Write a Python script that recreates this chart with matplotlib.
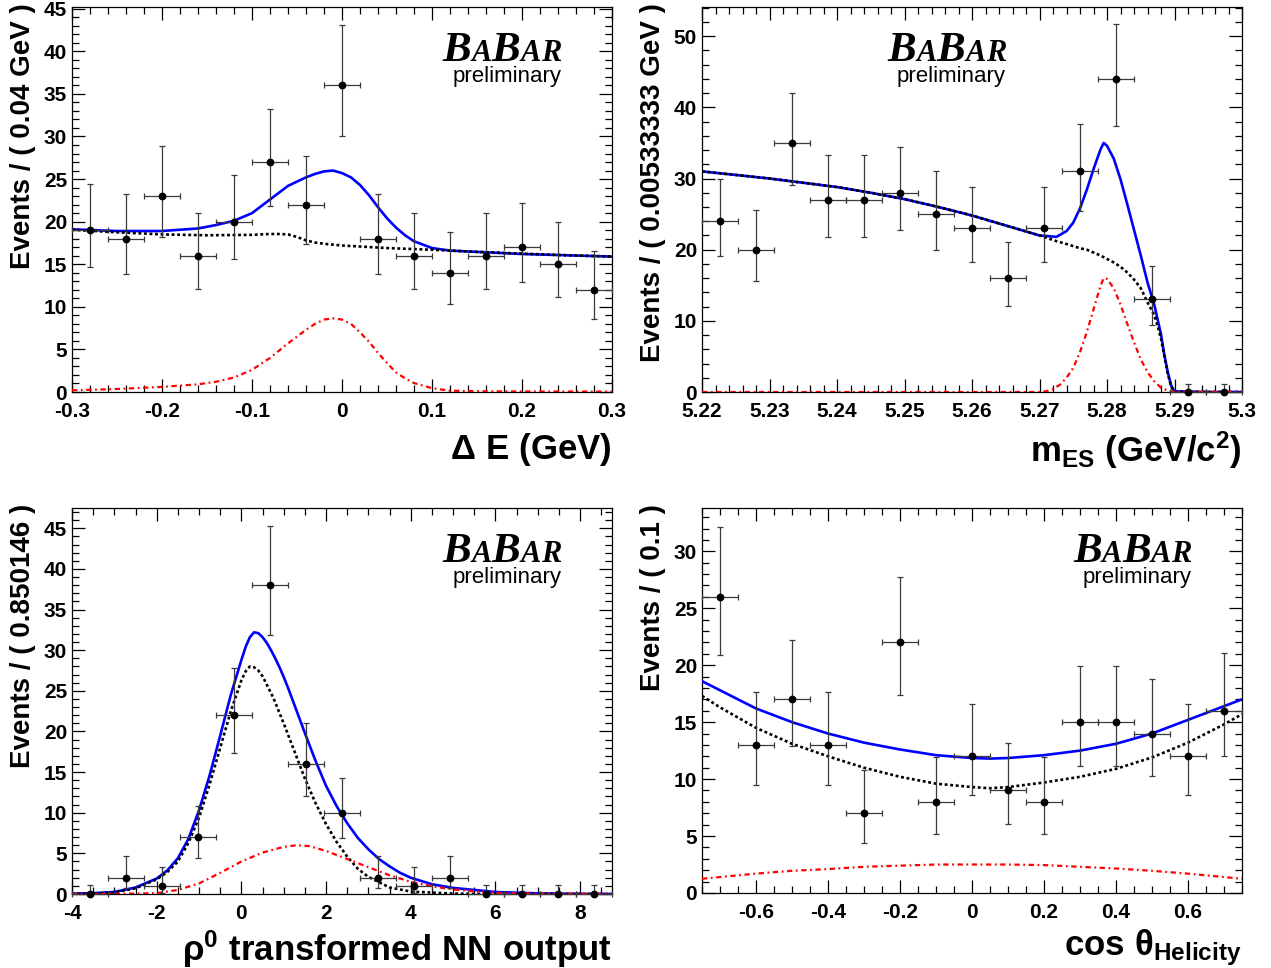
import matplotlib
matplotlib.use('Agg')
import matplotlib.pyplot as plt
from matplotlib.ticker import MultipleLocator, FuncFormatter

# ---------------- data ----------------
# panel 1: Delta E
de_centers = [-0.28, -0.24, -0.20, -0.16, -0.12, -0.08, -0.04, 0.00,
              0.04, 0.08, 0.12, 0.16, 0.20, 0.24, 0.28]
de_counts = [19, 18, 23, 16, 20, 27, 22, 36, 18, 16, 14, 16, 17, 15, 12]
de_lo = [4.32, 4.20, 4.77, 3.96, 4.44, 5.18, 4.66, 6.00, 4.20, 3.96, 3.70, 3.96, 4.08, 3.83, 3.42]
de_hi = [5.42, 5.30, 5.86, 5.06, 5.53, 6.26, 5.75, 7.09, 5.30, 5.06, 4.80, 5.06, 5.18, 4.93, 4.55]
de_binw = 0.04

de_tot_x = [-0.30, -0.25, -0.20, -0.16, -0.14, -0.12, -0.10, -0.08, -0.06, -0.04, -0.03, -0.02,
            -0.01, 0.00, 0.01, 0.02, 0.03, 0.04, 0.05, 0.06, 0.07, 0.08, 0.10, 0.12, 0.16,
            0.20, 0.25, 0.30]
de_tot_y = [19.1, 18.9, 18.9, 19.2, 19.6, 20.1, 21.0, 22.6, 24.2, 25.2, 25.6, 25.9,
            26.0, 25.7, 25.2, 24.3, 23.1, 21.7, 20.4, 19.3, 18.4, 17.7, 16.9, 16.6, 16.4,
            16.2, 16.05, 15.9]
de_bkg_x = [-0.30, -0.25, -0.20, -0.15, -0.10, -0.08, -0.07, -0.06, -0.05, -0.04, -0.03,
            -0.02, -0.01, 0.00, 0.05, 0.10, 0.15, 0.20, 0.25, 0.30]
de_bkg_y = [19.05, 18.75, 18.5, 18.4, 18.45, 18.55, 18.55, 18.5, 18.2, 17.8, 17.55,
            17.4, 17.3, 17.2, 16.9, 16.7, 16.45, 16.25, 16.05, 15.9]
de_sig_x = [-0.30, -0.25, -0.20, -0.16, -0.14, -0.12, -0.10, -0.08, -0.06, -0.04, -0.03,
            -0.02, -0.01, 0.00, 0.01, 0.02, 0.03, 0.04, 0.05, 0.06, 0.07, 0.08, 0.10,
            0.12, 0.16, 0.20, 0.30]
de_sig_y = [0.2, 0.35, 0.6, 0.9, 1.2, 1.7, 2.6, 4.0, 5.7, 7.3, 8.0, 8.5,
            8.65, 8.5, 8.0, 7.0, 5.9, 4.6, 3.4, 2.3, 1.6, 1.05, 0.45,
            0.15, 0.08, 0.06, 0.05]

# panel 2: m_ES
mes_centers = [5.2227, 5.2280, 5.2333, 5.2387, 5.2440, 5.2493, 5.2547, 5.2600,
               5.2653, 5.2707, 5.2760, 5.2813, 5.2867, 5.2920, 5.2973]
mes_counts = [24, 20, 35, 27, 27, 28, 25, 23, 16, 23, 31, 44, 13, 0, 0]
mes_lo = [4.88, 4.44, 5.92, 5.18, 5.18, 5.28, 4.98, 4.77, 3.96, 4.77, 5.56, 6.63, 3.56, 0, 0]
mes_hi = [5.96, 5.53, 7.00, 6.26, 6.26, 6.36, 6.06, 5.86, 5.06, 5.86, 6.64, 7.71, 4.67, 1.15, 1.15]
mes_binw = 0.00533333

mes_tot_x = [5.22, 5.225, 5.23, 5.235, 5.24, 5.245, 5.25, 5.255, 5.26, 5.265, 5.27, 5.2725,
             5.274, 5.275, 5.276, 5.277, 5.278, 5.279, 5.2795, 5.28, 5.281, 5.282, 5.283,
             5.284, 5.285, 5.286, 5.287, 5.2875, 5.288, 5.2885, 5.289, 5.2895, 5.29, 5.295, 5.30]
mes_tot_y = [31.0, 30.5, 30.0, 29.4, 28.8, 28.0, 27.1, 26.0, 24.8, 23.4, 22.0, 21.8,
             22.6, 23.8, 25.8, 28.4, 31.3, 34.0, 35.0, 34.6, 32.8, 29.9, 26.4,
             22.8, 19.2, 15.4, 12.3, 10.2, 8.1, 5.2, 2.8, 0.9, 0.1, 0.0, 0.0]
mes_bkg_x = [5.22, 5.225, 5.23, 5.235, 5.24, 5.245, 5.25, 5.255, 5.26, 5.265, 5.27, 5.2725,
             5.274, 5.275, 5.276, 5.277, 5.278, 5.279, 5.28, 5.281, 5.282, 5.283, 5.284,
             5.285, 5.286, 5.287, 5.2875, 5.288, 5.2885, 5.289, 5.2895, 5.29, 5.295, 5.30]
mes_bkg_y = [31.0, 30.5, 30.0, 29.4, 28.8, 28.0, 27.1, 26.0, 24.8, 23.4, 22.0, 21.2,
             20.8, 20.5, 20.2, 20.0, 19.6, 19.2, 18.7, 18.2, 17.6, 16.8, 15.8,
             14.6, 12.6, 10.8, 9.3, 7.5, 5.0, 2.6, 0.8, 0.0, 0.0, 0.0]
mes_sig_x = [5.22, 5.27, 5.271, 5.272, 5.273, 5.274, 5.275, 5.276, 5.277, 5.278, 5.279,
             5.2795, 5.28, 5.281, 5.282, 5.283, 5.284, 5.285, 5.286, 5.287, 5.288, 5.289,
             5.29, 5.30]
mes_sig_y = [0.0, 0.0, 0.1, 0.4, 1.0, 2.0, 3.4, 5.6, 8.4, 11.6, 14.8,
             16.0, 15.9, 14.6, 12.3, 9.6, 7.0, 4.6, 2.8, 1.5, 0.6, 0.2,
             0.0, 0.0]

# panel 3: transformed NN output
nn_centers = [-3.575, -2.725, -1.874, -1.024, -0.174, 0.676, 1.527, 2.377,
              3.227, 4.077, 4.928, 5.778, 6.628, 7.478, 8.329]
nn_counts = [0, 2, 1, 7, 22, 38, 16, 10, 2, 1, 2, 0, 0, 0, 0]
nn_lo = [0, 1.29, 0.83, 2.58, 4.66, 6.16, 3.96, 3.11, 1.29, 0.83, 1.29, 0, 0, 0, 0]
nn_hi = [1.15, 2.64, 2.30, 3.77, 5.75, 7.25, 5.06, 4.26, 2.64, 2.30, 2.64, 1.15, 1.15, 1.15, 1.15]
nn_binw = 0.850146

nn_tot_x = [-4.0, -3.5, -3.0, -2.5, -2.0, -1.75, -1.5, -1.25, -1.0, -0.75, -0.5, -0.25, 0.0,
            0.1, 0.2, 0.3, 0.4, 0.5, 0.6, 0.7, 0.8, 0.9, 1.0, 1.1, 1.25, 1.5, 1.75, 2.0,
            2.25, 2.5, 2.75, 3.0, 3.25, 3.5, 3.75, 4.0, 4.5, 5.0, 6.0, 7.0, 8.0, 8.75]
nn_tot_y = [0.05, 0.1, 0.25, 0.8, 1.9, 2.9, 4.4, 6.8, 10.3, 14.6, 19.5, 24.5, 28.8,
            30.4, 31.6, 32.2, 32.1, 31.6, 30.9, 30.0, 29.0, 27.9, 26.7, 25.4, 23.3, 19.8,
            16.4, 13.3, 10.8, 8.7, 6.9, 5.5, 4.3, 3.4, 2.6, 2.0, 1.2, 0.75, 0.25, 0.08,
            0.02, 0.0]
nn_bkg_x = [-4.0, -3.5, -3.0, -2.5, -2.0, -1.75, -1.5, -1.25, -1.0, -0.75, -0.5, -0.25, 0.0,
            0.1, 0.2, 0.3, 0.4, 0.5, 0.75, 1.0, 1.25, 1.5, 1.75, 2.0, 2.25, 2.5, 2.75, 3.0,
            3.5, 4.0, 5.0, 6.0, 8.75]
nn_bkg_y = [0.0, 0.05, 0.2, 0.7, 1.8, 2.7, 4.0, 6.3, 9.4, 13.5, 18.0, 22.5, 26.3,
            27.4, 28.0, 27.9, 27.5, 26.8, 24.2, 21.0, 17.6, 14.2, 11.2, 8.6, 6.4, 4.6,
            3.1, 2.1, 0.8, 0.3, 0.05, 0.0, 0.0]
nn_sig_x = [-4.0, -3.0, -2.5, -2.0, -1.5, -1.0, -0.5, 0.0, 0.5, 1.0, 1.3, 1.6, 2.0,
            2.5, 3.0, 3.5, 4.0, 4.5, 5.0, 6.0, 7.0, 8.75]
nn_sig_y = [0.0, 0.02, 0.05, 0.1, 0.5, 1.3, 2.6, 4.0, 5.1, 5.8, 6.0, 5.9, 5.3,
            4.3, 3.3, 2.3, 1.5, 0.95, 0.55, 0.15, 0.04, 0.0]

# panel 4: cos theta helicity
hel_centers = [-0.7, -0.6, -0.5, -0.4, -0.3, -0.2, -0.1, 0.0, 0.1, 0.2, 0.3, 0.4, 0.5, 0.6, 0.7]
hel_counts = [26, 13, 17, 13, 7, 22, 8, 12, 9, 8, 15, 15, 14, 12, 16]
hel_lo = [5.08, 3.56, 4.08, 3.56, 2.58, 4.66, 2.78, 3.42, 2.96, 2.78, 3.83, 3.83, 3.70, 3.42, 3.96]
hel_hi = [6.16, 4.67, 5.18, 4.67, 3.77, 5.75, 3.96, 4.55, 4.13, 3.96, 4.93, 4.93, 4.80, 4.55, 5.06]
hel_binw = 0.1

hel_x = [-0.75, -0.7, -0.6, -0.5, -0.4, -0.3, -0.2, -0.1, 0.0, 0.05, 0.1, 0.2, 0.3, 0.4,
         0.5, 0.6, 0.7, 0.75]
hel_tot_y = [18.6, 17.8, 16.2, 15.0, 14.0, 13.2, 12.6, 12.1, 11.85, 11.8, 11.85, 12.1, 12.5,
             13.1, 14.0, 15.2, 16.4, 17.0]
hel_bkg_y = [17.3, 16.3, 14.5, 13.1, 12.0, 11.0, 10.2, 9.6, 9.3, 9.2, 9.3, 9.7, 10.2, 10.9,
             11.9, 13.2, 14.8, 15.7]
hel_sig_y = [1.25, 1.4, 1.7, 1.95, 2.1, 2.3, 2.4, 2.5, 2.5, 2.5, 2.5, 2.45, 2.3, 2.15,
             1.95, 1.7, 1.4, 1.25]

# ---------------- style ----------------
plt.rcParams['font.family'] = ['Liberation Sans', 'DejaVu Sans']
plt.rcParams['font.weight'] = 'bold'
plt.rcParams['axes.labelweight'] = 'bold'
plt.rcParams['axes.unicode_minus'] = False
plt.rcParams['mathtext.fontset'] = 'custom'
plt.rcParams['mathtext.rm'] = 'Liberation Sans:bold'
plt.rcParams['mathtext.it'] = 'Liberation Sans:bold:italic'
plt.rcParams['mathtext.bf'] = 'Liberation Sans:bold'
plt.rcParams['mathtext.sf'] = 'Liberation Sans'

fig = plt.figure(figsize=(12.71, 9.68), dpi=100)
W, H = 1271.0, 968.0


def make_axes(left, top, right, bottom):
    return fig.add_axes([left / W, 1 - bottom / H, (right - left) / W, (bottom - top) / H])


def babar(ax, xr, yb):
    parts = [('R', 22), ('A', 22), ('B', 31), ('A', 22), ('B', 31)]
    prev = None
    for s, size in parts:
        kw = dict(ha='right', va='baseline', fontsize=size, family='Liberation Serif',
                  style='italic', weight='bold', color='black')
        if prev is None:
            prev = ax.text(xr, yb, s, transform=ax.transAxes, **kw)
        else:
            prev = ax.annotate(s, xy=(0, yb), xycoords=(prev, ax.transAxes), **kw)
    ax.text(xr, yb - 0.055, 'preliminary', transform=ax.transAxes, ha='right',
            va='baseline', fontsize=16, weight='normal', family='Liberation Sans')


fmt = FuncFormatter(lambda v, p: '%g' % round(v, 6))


def panel(ax, centers, counts, lo, hi, binw, curves, xlim, ylim, xmaj, xmin, ymaj, ymin,
          xlabel, ylabel, logo_x, xlabel_y):
    tx, ty, bx, by, sx, sy = curves
    ax.plot(tx, ty, color='#0000ff', lw=1.9, zorder=3)
    ax.plot(bx, by, color='black', lw=1.9, dashes=(1.1, 1.0), zorder=4)
    ax.plot(sx, sy, color='#ff0000', lw=1.6, dashes=(2.4, 1.6, 0.8, 1.6), zorder=4)
    ax.errorbar(centers, counts, yerr=[lo, hi], xerr=binw / 2, fmt='o', color='black',
                ecolor='#3a3a3a', elinewidth=0.9, capsize=2.5, capthick=0.9, ms=4.6,
                zorder=5, clip_on=False)
    ax.set_xlim(*xlim)
    ax.set_ylim(*ylim)
    ax.xaxis.set_major_locator(MultipleLocator(xmaj))
    ax.xaxis.set_minor_locator(MultipleLocator(xmin))
    ax.yaxis.set_major_locator(MultipleLocator(ymaj))
    ax.yaxis.set_minor_locator(MultipleLocator(ymin))
    ax.xaxis.set_major_formatter(fmt)
    ax.yaxis.set_major_formatter(fmt)
    ax.tick_params(which='both', direction='in', top=True, right=True, width=0.9,
                   labelsize=15)
    ax.tick_params(which='major', length=9.5)
    ax.tick_params(which='minor', length=5)
    ax.tick_params(axis='x', pad=7)
    ax.tick_params(axis='y', pad=3.5)
    for s in ax.spines.values():
        s.set_linewidth(0.9)
    ax.set_xlabel(xlabel, fontsize=25, loc='right')
    ax.xaxis.set_label_coords(1.0, xlabel_y)
    ax.set_ylabel(ylabel, fontsize=20, loc='top')
    ax.yaxis.set_label_coords(-0.067, 1.01)
    babar(ax, logo_x, 0.86)


ax1 = make_axes(72, 7, 612, 392)
panel(ax1, de_centers, de_counts, de_lo, de_hi, de_binw,
      (de_tot_x, de_tot_y, de_bkg_x, de_bkg_y, de_sig_x, de_sig_y),
      (-0.3, 0.3), (0, 45.2), 0.1, 0.02, 5, 1,
      r'$\mathsf{\Delta}\ \mathrm{E\ (GeV)}$', 'Events / ( 0.04 GeV )', 0.906, -0.1)

ax2 = make_axes(702, 7, 1242, 392)
panel(ax2, mes_centers, mes_counts, mes_lo, mes_hi, mes_binw,
      (mes_tot_x, mes_tot_y, mes_bkg_x, mes_bkg_y, mes_sig_x, mes_sig_y),
      (5.22, 5.30), (0, 54.1), 0.01, 0.002, 10, 2,
      r'$\mathrm{m_{ES}\ (GeV/c^{2})}$', 'Events / ( 0.00533333 GeV )', 0.563, -0.097)

ax3 = make_axes(72, 508, 612, 894)
panel(ax3, nn_centers, nn_counts, nn_lo, nn_hi, nn_binw,
      (nn_tot_x, nn_tot_y, nn_bkg_x, nn_bkg_y, nn_sig_x, nn_sig_y),
      (-4, 8.752), (0, 47.5), 2, 0.5, 5, 1,
      r'$\mathsf{\rho}^{\mathrm{0}}\mathrm{\ transformed\ NN\ output}$',
      'Events / ( 0.850146 )', 0.906, -0.09)

ax4 = make_axes(702, 508, 1242, 893)
panel(ax4, hel_centers, hel_counts, hel_lo, hel_hi, hel_binw,
      (hel_x, hel_tot_y, hel_x, hel_bkg_y, hel_x, hel_sig_y),
      (-0.75, 0.75), (0, 33.8), 0.2, 0.05, 5, 1,
      r'$\mathrm{cos}\ \mathsf{\theta}_{\mathrm{Helicity}}$', 'Events / ( 0.1 )', 0.907,
      -0.09)

fig.savefig('out.png', dpi=100)
